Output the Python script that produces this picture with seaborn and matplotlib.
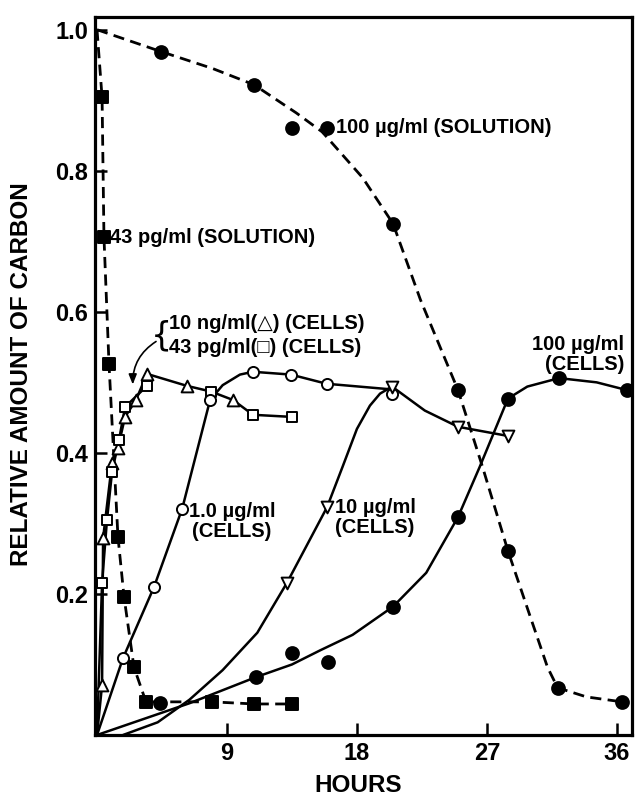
import matplotlib
matplotlib.use("Agg")
import matplotlib.pyplot as plt
import pandas as pd
import seaborn as sns

sns.set_theme(style="white")
plt.rcParams["font.family"] = ["Liberation Sans", "DejaVu Sans"]
plt.rcParams["font.weight"] = "bold"
plt.rcParams["text.color"] = "black"

# --- data (hours, relative amount of carbon) ---
# 100 ug/ml in solution (filled circles, dashed)
sol100_x = [4.43, 10.87, 13.5, 15.93, 20.5, 25.0, 28.46, 31.9, 36.36]
sol100_y = [0.969, 0.922, 0.861, 0.861, 0.725, 0.489, 0.261, 0.067, 0.047]
sol100_curve_x = [0, 4.43, 8.0, 10.87, 13.8, 15.6, 18.4, 20.5, 22.4, 25.0, 26.7, 28.46, 29.8, 31.2, 31.9, 33.9, 36.36]
sol100_curve_y = [1.0, 0.969, 0.945, 0.922, 0.882, 0.855, 0.79, 0.725, 0.617, 0.489, 0.38, 0.261, 0.18, 0.096, 0.067, 0.054, 0.047]

# 43 pg/ml in solution (filled squares, dashed)
sol43_x = [0.35, 0.48, 0.83, 1.45, 1.87, 2.56, 3.39, 7.96, 10.9, 13.5]
sol43_y = [0.904, 0.706, 0.526, 0.281, 0.196, 0.096, 0.047, 0.047, 0.044, 0.044]
sol43_curve_x = [0] + sol43_x
sol43_curve_y = [1.0] + sol43_y

# 10 ng/ml cells (open up-triangles)
ng10_x = [0.35, 0.42, 1.04, 1.45, 1.94, 2.70, 3.46, 6.23, 9.42]
ng10_y = [0.071, 0.279, 0.386, 0.407, 0.451, 0.475, 0.512, 0.495, 0.475]
ng10_curve_x = [0, 0.35, 0.42, 1.04, 1.45, 1.94, 2.70, 3.46, 6.23, 7.89, 9.42, 10.8, 13.5]
ng10_curve_y = [0, 0.071, 0.279, 0.386, 0.407, 0.451, 0.475, 0.512, 0.495, 0.487, 0.475, 0.454, 0.451]

# 43 pg/ml cells (open squares)
pg43_x = [0.35, 0.69, 1.04, 1.52, 1.94, 3.46, 7.89, 10.8, 13.5]
pg43_y = [0.216, 0.305, 0.373, 0.418, 0.465, 0.495, 0.487, 0.454, 0.451]
pg43_curve_x = [0, 0.35, 0.69, 1.04, 1.52, 1.94, 3.46]
pg43_curve_y = [0, 0.216, 0.305, 0.373, 0.418, 0.465, 0.495]

# 1.0 ug/ml cells (open circles)
ug1_x = [1.8, 3.95, 5.9, 7.83, 10.8, 13.43, 15.9, 20.4]
ug1_y = [0.109, 0.21, 0.321, 0.475, 0.515, 0.511, 0.498, 0.484]
ug1_curve_x = [0, 1.8, 3.95, 5.9, 7.83, 8.7, 9.9, 10.8, 13.43, 15.9, 20.4]
ug1_curve_y = [0, 0.109, 0.21, 0.321, 0.475, 0.496, 0.511, 0.515, 0.511, 0.498, 0.49]

# 10 ug/ml cells (open down-triangles)
ug10_x = [13.16, 15.93, 20.43, 25.0, 28.46]
ug10_y = [0.216, 0.323, 0.494, 0.437, 0.424]
ug10_curve_x = [1.8, 4.2, 6.4, 8.7, 11.1, 13.16, 15.93, 17.0, 18.0, 18.9, 19.6, 20.43, 22.7, 25.0, 28.46]
ug10_curve_y = [0, 0.018, 0.05, 0.092, 0.145, 0.216, 0.323, 0.38, 0.434, 0.467, 0.484, 0.494, 0.46, 0.437, 0.424]

# 100 ug/ml cells (filled circles, solid)
ug100_x = [4.36, 11.0, 13.5, 16.0, 20.5, 25.0, 28.46, 32.0, 36.7]
ug100_y = [0.045, 0.082, 0.116, 0.104, 0.182, 0.309, 0.477, 0.506, 0.489]
ug100_curve_x = [0, 6.4, 11.0, 13.5, 15.45, 17.7, 20.5, 22.8, 25.0, 26.5, 28.46, 29.8, 32.0, 34.6, 36.7]
ug100_curve_y = [0, 0.045, 0.082, 0.10, 0.12, 0.142, 0.182, 0.23, 0.309, 0.38, 0.477, 0.494, 0.506, 0.50, 0.489]

x_ticks = [9, 18, 27, 36]
y_ticks = [0.2, 0.4, 0.6, 0.8, 1.0]

fig = plt.figure(figsize=(6.39, 7.97), dpi=100)
ax = fig.add_axes([95 / 639, 62 / 797, 537 / 639, 718 / 797])

solid = dict(color="black", linewidth=1.8, sort=False, estimator=None, ax=ax, zorder=2)
dashed = dict(color="black", linewidth=2.0, sort=False, estimator=None, ax=ax, zorder=2)

curves = [
    (sol100_curve_x, sol100_curve_y, True),
    (sol43_curve_x, sol43_curve_y, True),
    (ng10_curve_x, ng10_curve_y, False),
    (pg43_curve_x, pg43_curve_y, False),
    (ug1_curve_x, ug1_curve_y, False),
    (ug10_curve_x, ug10_curve_y, False),
    (ug100_curve_x, ug100_curve_y, False),
]
for cx, cy, is_dashed in curves:
    df = pd.DataFrame({"x": cx, "y": cy})
    if is_dashed:
        sns.lineplot(data=df, x="x", y="y", **dashed)
        ax.lines[-1].set_dashes((4, 2.3))
    else:
        sns.lineplot(data=df, x="x", y="y", **solid)

markers = [
    (sol100_x, sol100_y, "o", "black", 85),
    (ug100_x, ug100_y, "o", "black", 85),
    (sol43_x, sol43_y, "s", "black", 64),
    (ng10_x, ng10_y, "^", "white", 72),
    (pg43_x, pg43_y, "s", "white", 62),
    (ug1_x, ug1_y, "o", "white", 64),
    (ug10_x, ug10_y, "v", "white", 72),
]
for mx, my, m, fc, s in markers:
    sns.scatterplot(x=mx, y=my, marker=m, s=s, color=fc, edgecolor="black",
                    linewidth=1.4, ax=ax, zorder=3)

ax.set_xlim(-0.14, 37.05)
ax.set_ylim(0, 1.018)
ax.set_xticks(x_ticks)
ax.set_xticklabels([str(t) for t in x_ticks])
ax.set_yticks(y_ticks)
ax.set_yticklabels([f"{t:.1f}" for t in y_ticks])
ax.tick_params(direction="in", length=8.5, width=1.8, labelsize=17, pad=5,
               bottom=True, left=True, colors="black")
for lab in ax.get_xticklabels() + ax.get_yticklabels():
    lab.set_fontweight("bold")
for sp in ax.spines.values():
    sp.set_linewidth(2.3)
    sp.set_color("black")
ax.set_xlabel("")
ax.set_ylabel("")

fig.text(22 / 639, 1 - 374 / 797, "RELATIVE AMOUNT OF CARBON", rotation=90,
         ha="center", va="center", fontsize=17.5, fontweight="bold", color="black")
fig.text(358 / 639, 1 - 786 / 797, "HOURS", ha="center", va="center",
         fontsize=17.5, fontweight="bold", color="black")

tk = dict(fontsize=14.5, fontweight="bold", color="black", zorder=4)
ax.text(16.55, 0.862, "100 µg/ml (SOLUTION)", ha="left", va="center", **tk)
ax.text(0.9, 0.706, "43 pg/ml (SOLUTION)", ha="left", va="center", **tk)
ax.text(5.0, 0.584, "10 ng/ml(△) (CELLS)", ha="left", va="center", **tk)
ax.text(5.0, 0.549, "43 pg/ml(□) (CELLS)", ha="left", va="center", **tk)
ax.text(9.35, 0.303, "1.0 µg/ml\n(CELLS)", ha="center", va="center",
        multialignment="center", linespacing=1.05, **tk)
ax.text(19.25, 0.308, "10 µg/ml\n(CELLS)", ha="center", va="center",
        multialignment="center", linespacing=1.05, **tk)
ax.text(36.5, 0.539, "100 µg/ml\n(CELLS)", ha="right", va="center",
        multialignment="right", linespacing=1.05, **tk)
ax.text(4.45, 0.566, "{", ha="center", va="center", fontsize=24,
        fontweight="normal", family=["DejaVu Sans"], color="black")
ax.annotate("", xy=(2.48, 0.493), xytext=(4.25, 0.56),
            arrowprops=dict(arrowstyle="-|>,head_length=0.5,head_width=0.2",
                            color="black", linewidth=1.2,
                            connectionstyle="arc3,rad=0.3"))

fig.savefig("out.png", dpi=100)
